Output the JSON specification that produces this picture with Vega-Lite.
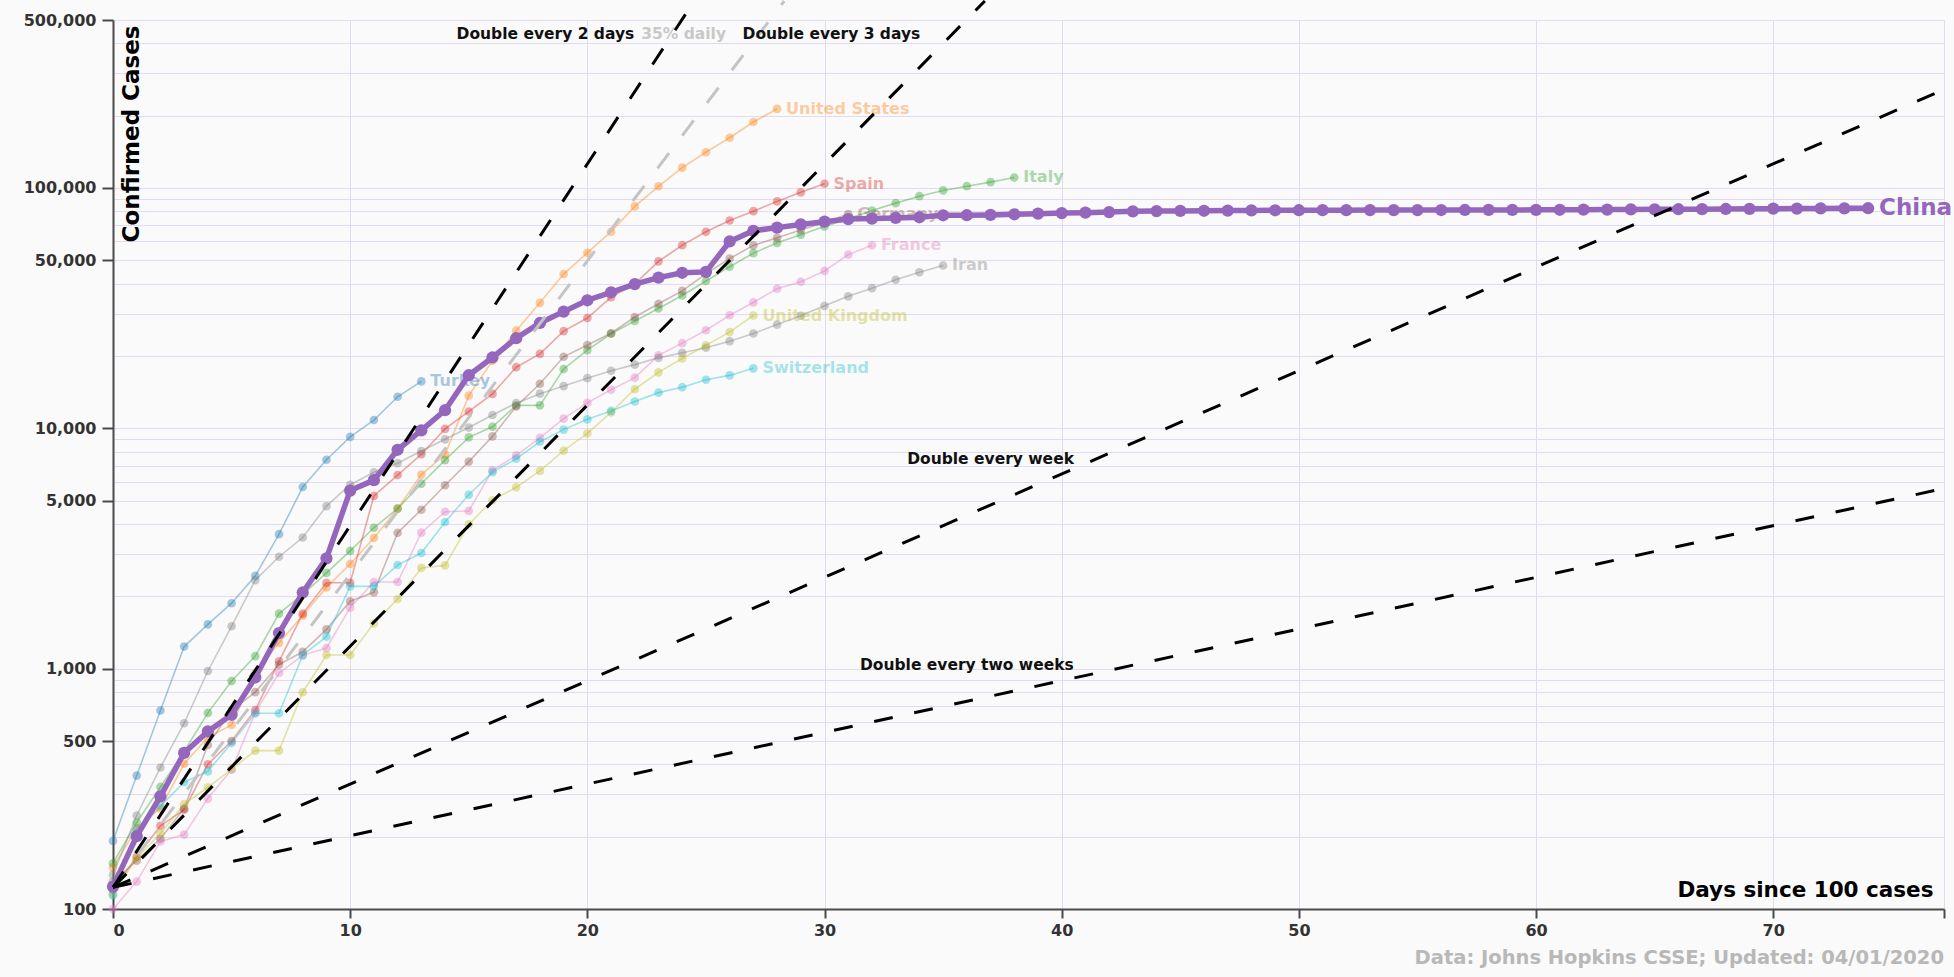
{
  "$schema": "https://vega.github.io/schema/vega-lite/v6.json",
  "autosize": {"type": "none"},
  "width": 1831,
  "height": 889,
  "padding": {"left": 113, "top": 20, "right": 10, "bottom": 68},
  "background": "#fafafa",
  "config": {
    "view": {"stroke": null},
    "font": "DejaVu Sans",
    "text": {"font": "DejaVu Sans"}
  },
  "title": {
    "text": "Data: Johns Hopkins CSSE; Updated: 04/01/2020",
    "orient": "bottom",
    "anchor": "end",
    "frame": "group",
    "font": "DejaVu Sans",
    "fontSize": 19.5,
    "fontWeight": "bold",
    "color": "#b8b8b8",
    "offset": 11
  },
  "datasets": {
    "countries": [
      {"country":"China","day":0,"cases":124},{"country":"China","day":1,"cases":201},{"country":"China","day":2,"cases":294},{"country":"China","day":3,"cases":446},{"country":"China","day":4,"cases":548},{"country":"China","day":5,"cases":643},{"country":"China","day":6,"cases":920},{"country":"China","day":7,"cases":1406},{"country":"China","day":8,"cases":2075},{"country":"China","day":9,"cases":2877},{"country":"China","day":10,"cases":5509},{"country":"China","day":11,"cases":6087},{"country":"China","day":12,"cases":8141},{"country":"China","day":13,"cases":9802},{"country":"China","day":14,"cases":11891},{"country":"China","day":15,"cases":16630},{"country":"China","day":16,"cases":19716},{"country":"China","day":17,"cases":23707},{"country":"China","day":18,"cases":27440},{"country":"China","day":19,"cases":30587},{"country":"China","day":20,"cases":34110},{"country":"China","day":21,"cases":36814},{"country":"China","day":22,"cases":39829},{"country":"China","day":23,"cases":42354},{"country":"China","day":24,"cases":44386},{"country":"China","day":25,"cases":44759},{"country":"China","day":26,"cases":59895},{"country":"China","day":27,"cases":66358},{"country":"China","day":28,"cases":68413},{"country":"China","day":29,"cases":70513},{"country":"China","day":30,"cases":72434},{"country":"China","day":31,"cases":74211},{"country":"China","day":32,"cases":74619},{"country":"China","day":33,"cases":75077},{"country":"China","day":34,"cases":75550},{"country":"China","day":35,"cases":77001},{"country":"China","day":36,"cases":77022},{"country":"China","day":37,"cases":77241},{"country":"China","day":38,"cases":77754},{"country":"China","day":39,"cases":78166},{"country":"China","day":40,"cases":78600},{"country":"China","day":41,"cases":78928},{"country":"China","day":42,"cases":79356},{"country":"China","day":43,"cases":79932},{"country":"China","day":44,"cases":80136},{"country":"China","day":45,"cases":80261},{"country":"China","day":46,"cases":80386},{"country":"China","day":47,"cases":80537},{"country":"China","day":48,"cases":80690},{"country":"China","day":49,"cases":80770},{"country":"China","day":50,"cases":80823},{"country":"China","day":51,"cases":80860},{"country":"China","day":52,"cases":80887},{"country":"China","day":53,"cases":80921},{"country":"China","day":54,"cases":80932},{"country":"China","day":55,"cases":80945},{"country":"China","day":56,"cases":80977},{"country":"China","day":57,"cases":81003},{"country":"China","day":58,"cases":81033},{"country":"China","day":59,"cases":81058},{"country":"China","day":60,"cases":81102},{"country":"China","day":61,"cases":81156},{"country":"China","day":62,"cases":81250},{"country":"China","day":63,"cases":81305},{"country":"China","day":64,"cases":81435},{"country":"China","day":65,"cases":81498},{"country":"China","day":66,"cases":81591},{"country":"China","day":67,"cases":81661},{"country":"China","day":68,"cases":81782},{"country":"China","day":69,"cases":81897},{"country":"China","day":70,"cases":81999},{"country":"China","day":71,"cases":82122},{"country":"China","day":72,"cases":82198},{"country":"China","day":73,"cases":82279},{"country":"China","day":74,"cases":82361},
      {"country":"Turkey","day":0,"cases":192},{"country":"Turkey","day":1,"cases":359},{"country":"Turkey","day":2,"cases":670},{"country":"Turkey","day":3,"cases":1236},{"country":"Turkey","day":4,"cases":1529},{"country":"Turkey","day":5,"cases":1872},{"country":"Turkey","day":6,"cases":2433},{"country":"Turkey","day":7,"cases":3629},{"country":"Turkey","day":8,"cases":5698},{"country":"Turkey","day":9,"cases":7402},{"country":"Turkey","day":10,"cases":9217},{"country":"Turkey","day":11,"cases":10827},{"country":"Turkey","day":12,"cases":13531},{"country":"Turkey","day":13,"cases":15679},
      {"country":"United States","day":0,"cases":149},{"country":"United States","day":1,"cases":217},{"country":"United States","day":2,"cases":262},{"country":"United States","day":3,"cases":402},{"country":"United States","day":4,"cases":518},{"country":"United States","day":5,"cases":583},{"country":"United States","day":6,"cases":959},{"country":"United States","day":7,"cases":1281},{"country":"United States","day":8,"cases":1663},{"country":"United States","day":9,"cases":2179},{"country":"United States","day":10,"cases":2727},{"country":"United States","day":11,"cases":3499},{"country":"United States","day":12,"cases":4632},{"country":"United States","day":13,"cases":6421},{"country":"United States","day":14,"cases":7783},{"country":"United States","day":15,"cases":13677},{"country":"United States","day":16,"cases":19100},{"country":"United States","day":17,"cases":25489},{"country":"United States","day":18,"cases":33276},{"country":"United States","day":19,"cases":43847},{"country":"United States","day":20,"cases":53740},{"country":"United States","day":21,"cases":65778},{"country":"United States","day":22,"cases":83836},{"country":"United States","day":23,"cases":101657},{"country":"United States","day":24,"cases":121478},{"country":"United States","day":25,"cases":140886},{"country":"United States","day":26,"cases":161807},{"country":"United States","day":27,"cases":188172},{"country":"United States","day":28,"cases":213372},
      {"country":"Italy","day":0,"cases":155},{"country":"Italy","day":1,"cases":229},{"country":"Italy","day":2,"cases":322},{"country":"Italy","day":3,"cases":453},{"country":"Italy","day":4,"cases":655},{"country":"Italy","day":5,"cases":888},{"country":"Italy","day":6,"cases":1128},{"country":"Italy","day":7,"cases":1694},{"country":"Italy","day":8,"cases":2036},{"country":"Italy","day":9,"cases":2502},{"country":"Italy","day":10,"cases":3089},{"country":"Italy","day":11,"cases":3858},{"country":"Italy","day":12,"cases":4636},{"country":"Italy","day":13,"cases":5883},{"country":"Italy","day":14,"cases":7375},{"country":"Italy","day":15,"cases":9172},{"country":"Italy","day":16,"cases":10149},{"country":"Italy","day":17,"cases":12462},{"country":"Italy","day":18,"cases":12462},{"country":"Italy","day":19,"cases":17660},{"country":"Italy","day":20,"cases":21157},{"country":"Italy","day":21,"cases":24747},{"country":"Italy","day":22,"cases":27980},{"country":"Italy","day":23,"cases":31506},{"country":"Italy","day":24,"cases":35713},{"country":"Italy","day":25,"cases":41035},{"country":"Italy","day":26,"cases":47021},{"country":"Italy","day":27,"cases":53578},{"country":"Italy","day":28,"cases":59138},{"country":"Italy","day":29,"cases":63927},{"country":"Italy","day":30,"cases":69176},{"country":"Italy","day":31,"cases":74386},{"country":"Italy","day":32,"cases":80589},{"country":"Italy","day":33,"cases":86498},{"country":"Italy","day":34,"cases":92472},{"country":"Italy","day":35,"cases":97689},{"country":"Italy","day":36,"cases":101739},{"country":"Italy","day":37,"cases":105792},{"country":"Italy","day":38,"cases":110574},
      {"country":"Spain","day":0,"cases":120},{"country":"Spain","day":1,"cases":165},{"country":"Spain","day":2,"cases":222},{"country":"Spain","day":3,"cases":259},{"country":"Spain","day":4,"cases":400},{"country":"Spain","day":5,"cases":500},{"country":"Spain","day":6,"cases":673},{"country":"Spain","day":7,"cases":1073},{"country":"Spain","day":8,"cases":1695},{"country":"Spain","day":9,"cases":2277},{"country":"Spain","day":10,"cases":2277},{"country":"Spain","day":11,"cases":5232},{"country":"Spain","day":12,"cases":6391},{"country":"Spain","day":13,"cases":7798},{"country":"Spain","day":14,"cases":9942},{"country":"Spain","day":15,"cases":11748},{"country":"Spain","day":16,"cases":13910},{"country":"Spain","day":17,"cases":17963},{"country":"Spain","day":18,"cases":20410},{"country":"Spain","day":19,"cases":25374},{"country":"Spain","day":20,"cases":28768},{"country":"Spain","day":21,"cases":35136},{"country":"Spain","day":22,"cases":39885},{"country":"Spain","day":23,"cases":49515},{"country":"Spain","day":24,"cases":57786},{"country":"Spain","day":25,"cases":65719},{"country":"Spain","day":26,"cases":73235},{"country":"Spain","day":27,"cases":80110},{"country":"Spain","day":28,"cases":87956},{"country":"Spain","day":29,"cases":95923},{"country":"Spain","day":30,"cases":104118},
      {"country":"Germany","day":0,"cases":130},{"country":"Germany","day":1,"cases":159},{"country":"Germany","day":2,"cases":196},{"country":"Germany","day":3,"cases":262},{"country":"Germany","day":4,"cases":482},{"country":"Germany","day":5,"cases":670},{"country":"Germany","day":6,"cases":799},{"country":"Germany","day":7,"cases":1040},{"country":"Germany","day":8,"cases":1176},{"country":"Germany","day":9,"cases":1457},{"country":"Germany","day":10,"cases":1908},{"country":"Germany","day":11,"cases":2078},{"country":"Germany","day":12,"cases":3675},{"country":"Germany","day":13,"cases":4585},{"country":"Germany","day":14,"cases":5795},{"country":"Germany","day":15,"cases":7272},{"country":"Germany","day":16,"cases":9257},{"country":"Germany","day":17,"cases":12327},{"country":"Germany","day":18,"cases":15320},{"country":"Germany","day":19,"cases":19848},{"country":"Germany","day":20,"cases":22213},{"country":"Germany","day":21,"cases":24873},{"country":"Germany","day":22,"cases":29056},{"country":"Germany","day":23,"cases":32986},{"country":"Germany","day":24,"cases":37323},{"country":"Germany","day":25,"cases":43938},{"country":"Germany","day":26,"cases":50871},{"country":"Germany","day":27,"cases":57695},{"country":"Germany","day":28,"cases":62095},{"country":"Germany","day":29,"cases":66885},{"country":"Germany","day":30,"cases":71808},{"country":"Germany","day":31,"cases":77872},
      {"country":"France","day":0,"cases":100},{"country":"France","day":1,"cases":130},{"country":"France","day":2,"cases":191},{"country":"France","day":3,"cases":204},{"country":"France","day":4,"cases":288},{"country":"France","day":5,"cases":380},{"country":"France","day":6,"cases":656},{"country":"France","day":7,"cases":959},{"country":"France","day":8,"cases":1136},{"country":"France","day":9,"cases":1219},{"country":"France","day":10,"cases":1794},{"country":"France","day":11,"cases":2293},{"country":"France","day":12,"cases":2293},{"country":"France","day":13,"cases":3681},{"country":"France","day":14,"cases":4496},{"country":"France","day":15,"cases":4532},{"country":"France","day":16,"cases":6683},{"country":"France","day":17,"cases":7715},{"country":"France","day":18,"cases":9124},{"country":"France","day":19,"cases":10970},{"country":"France","day":20,"cases":12758},{"country":"France","day":21,"cases":14463},{"country":"France","day":22,"cases":16243},{"country":"France","day":23,"cases":20123},{"country":"France","day":24,"cases":22622},{"country":"France","day":25,"cases":25600},{"country":"France","day":26,"cases":29551},{"country":"France","day":27,"cases":33402},{"country":"France","day":28,"cases":38105},{"country":"France","day":29,"cases":40708},{"country":"France","day":30,"cases":45170},{"country":"France","day":31,"cases":52827},{"country":"France","day":32,"cases":57749},
      {"country":"Iran","day":0,"cases":139},{"country":"Iran","day":1,"cases":245},{"country":"Iran","day":2,"cases":388},{"country":"Iran","day":3,"cases":593},{"country":"Iran","day":4,"cases":978},{"country":"Iran","day":5,"cases":1501},{"country":"Iran","day":6,"cases":2336},{"country":"Iran","day":7,"cases":2922},{"country":"Iran","day":8,"cases":3513},{"country":"Iran","day":9,"cases":4747},{"country":"Iran","day":10,"cases":5823},{"country":"Iran","day":11,"cases":6566},{"country":"Iran","day":12,"cases":7161},{"country":"Iran","day":13,"cases":8042},{"country":"Iran","day":14,"cases":9000},{"country":"Iran","day":15,"cases":10075},{"country":"Iran","day":16,"cases":11364},{"country":"Iran","day":17,"cases":12729},{"country":"Iran","day":18,"cases":13938},{"country":"Iran","day":19,"cases":14991},{"country":"Iran","day":20,"cases":16169},{"country":"Iran","day":21,"cases":17361},{"country":"Iran","day":22,"cases":18407},{"country":"Iran","day":23,"cases":19644},{"country":"Iran","day":24,"cases":20610},{"country":"Iran","day":25,"cases":21638},{"country":"Iran","day":26,"cases":23049},{"country":"Iran","day":27,"cases":24811},{"country":"Iran","day":28,"cases":27017},{"country":"Iran","day":29,"cases":29406},{"country":"Iran","day":30,"cases":32332},{"country":"Iran","day":31,"cases":35408},{"country":"Iran","day":32,"cases":38309},{"country":"Iran","day":33,"cases":41495},{"country":"Iran","day":34,"cases":44605},{"country":"Iran","day":35,"cases":47593},
      {"country":"United Kingdom","day":0,"cases":115},{"country":"United Kingdom","day":1,"cases":163},{"country":"United Kingdom","day":2,"cases":206},{"country":"United Kingdom","day":3,"cases":273},{"country":"United Kingdom","day":4,"cases":321},{"country":"United Kingdom","day":5,"cases":382},{"country":"United Kingdom","day":6,"cases":456},{"country":"United Kingdom","day":7,"cases":456},{"country":"United Kingdom","day":8,"cases":798},{"country":"United Kingdom","day":9,"cases":1140},{"country":"United Kingdom","day":10,"cases":1140},{"country":"United Kingdom","day":11,"cases":1543},{"country":"United Kingdom","day":12,"cases":1950},{"country":"United Kingdom","day":13,"cases":2626},{"country":"United Kingdom","day":14,"cases":2689},{"country":"United Kingdom","day":15,"cases":3983},{"country":"United Kingdom","day":16,"cases":5018},{"country":"United Kingdom","day":17,"cases":5683},{"country":"United Kingdom","day":18,"cases":6650},{"country":"United Kingdom","day":19,"cases":8077},{"country":"United Kingdom","day":20,"cases":9529},{"country":"United Kingdom","day":21,"cases":11658},{"country":"United Kingdom","day":22,"cases":14543},{"country":"United Kingdom","day":23,"cases":17089},{"country":"United Kingdom","day":24,"cases":19522},{"country":"United Kingdom","day":25,"cases":22141},{"country":"United Kingdom","day":26,"cases":25150},{"country":"United Kingdom","day":27,"cases":29474},
      {"country":"Switzerland","day":0,"cases":114},{"country":"Switzerland","day":1,"cases":214},{"country":"Switzerland","day":2,"cases":268},{"country":"Switzerland","day":3,"cases":337},{"country":"Switzerland","day":4,"cases":374},{"country":"Switzerland","day":5,"cases":491},{"country":"Switzerland","day":6,"cases":652},{"country":"Switzerland","day":7,"cases":652},{"country":"Switzerland","day":8,"cases":1139},{"country":"Switzerland","day":9,"cases":1359},{"country":"Switzerland","day":10,"cases":2200},{"country":"Switzerland","day":11,"cases":2200},{"country":"Switzerland","day":12,"cases":2700},{"country":"Switzerland","day":13,"cases":3028},{"country":"Switzerland","day":14,"cases":4075},{"country":"Switzerland","day":15,"cases":5294},{"country":"Switzerland","day":16,"cases":6575},{"country":"Switzerland","day":17,"cases":7474},{"country":"Switzerland","day":18,"cases":8795},{"country":"Switzerland","day":19,"cases":9877},{"country":"Switzerland","day":20,"cases":10897},{"country":"Switzerland","day":21,"cases":11811},{"country":"Switzerland","day":22,"cases":12928},{"country":"Switzerland","day":23,"cases":14076},{"country":"Switzerland","day":24,"cases":14829},{"country":"Switzerland","day":25,"cases":15922},{"country":"Switzerland","day":26,"cases":16605},{"country":"Switzerland","day":27,"cases":17768}
    ],
    "doubling": [
      {"line":"Double every 2 days","kind":"black","day":0,"cases":123},{"line":"Double every 2 days","kind":"black","day":24.5,"cases":599000},
      {"line":"Double every 3 days","kind":"black","day":0,"cases":123},{"line":"Double every 3 days","kind":"black","day":36.76,"cases":600000},
      {"line":"Double every week","kind":"black","day":0,"cases":123},{"line":"Double every week","kind":"black","day":80,"cases":339000},
      {"line":"Double every two weeks","kind":"black","day":0,"cases":123},{"line":"Double every two weeks","kind":"black","day":80,"cases":6458},
      {"line":"35% daily","kind":"gray","day":0,"cases":123},{"line":"35% daily","kind":"gray","day":28.3,"cases":600000}
    ],
    "doublingLabels": [
      {"label":"Double every 2 days","kind":"black","day":18.23,"cases":439000},
      {"label":"35% daily","kind":"gray","day":24.06,"cases":439000},
      {"label":"Double every 3 days","kind":"black","day":30.29,"cases":439000},
      {"label":"Double every week","kind":"black","day":37.0,"cases":7480},
      {"label":"Double every two weeks","kind":"black","day":36.0,"cases":1034}
    ]
  },
  "layer": [
    {
      "data": {"name": "countries"},
      "transform": [{"filter": "datum.country !== 'China'"}],
      "mark": {"type": "line", "strokeWidth": 1.6, "opacity": 0.4, "clip": false},
      "encoding": {
        "x": {
          "field": "day", "type": "quantitative",
          "scale": {"domain": [0, 77.2], "nice": false, "zero": false},
          "axis": {
            "values": [0, 10, 20, 30, 40, 50, 60, 70, 77.2],
            "labelExpr": "datum.value > 75 ? '' : datum.label",
            "grid": true, "gridColor": "#e2daee", "gridWidth": 1,
            "domainColor": "#4a4a4a", "domainWidth": 2,
            "tickColor": "#4a4a4a", "tickWidth": 2, "tickSize": 9,
            "labelFont": "DejaVu Sans", "labelFontSize": 16, "labelFontWeight": "bold", "labelColor": "#333333", "labelPadding": 4,
            "title": "Days since 100 cases",
            "titleFont": "DejaVu Sans", "titleFontSize": 21.5, "titleFontWeight": "bold", "titleColor": "#000000",
            "titleX": 1820, "titleY": -13, "titleAlign": "right", "titleBaseline": "alphabetic"
          }
        },
        "y": {
          "field": "cases", "type": "quantitative",
          "scale": {"type": "log", "domain": [100, 500000], "nice": false},
          "axis": {
            "values": [100,200,300,400,500,600,700,800,900,1000,2000,3000,4000,5000,6000,7000,8000,9000,10000,20000,30000,40000,50000,60000,70000,80000,90000,100000,200000,300000,400000,500000],
            "labelExpr": "indexof([100,500,1000,5000,10000,50000,100000,500000], datum.value) >= 0 ? format(datum.value, ',') : ''",
            "labelOverlap": false,
            "tickOpacity": {"condition": {"test": "indexof([100,500,1000,5000,10000,50000,100000,500000], datum.value) >= 0", "value": 1}, "value": 0},
            "grid": true, "gridColor": "#e2daee", "gridWidth": 1,
            "domainColor": "#4a4a4a", "domainWidth": 2,
            "tickColor": "#4a4a4a", "tickWidth": 2, "tickSize": 11,
            "labelFont": "DejaVu Sans", "labelFontSize": 16, "labelFontWeight": "bold", "labelColor": "#333333", "labelPadding": 6,
            "title": "Confirmed Cases",
            "titleFont": "DejaVu Sans", "titleFontSize": 23, "titleFontWeight": "bold", "titleColor": "#000000",
            "titleAngle": 270, "titleX": 18, "titleY": 5, "titleAlign": "right", "titleBaseline": "middle"
          }
        },
        "color": {
          "field": "country", "type": "nominal", "legend": null,
          "scale": {
            "domain": ["Turkey","United States","Italy","Spain","China","Germany","France","Iran","United Kingdom","Switzerland"],
            "range": ["#1f77b4","#ff7f0e","#2ca02c","#d62728","#9467bd","#8c564b","#e377c2","#7f7f7f","#bcbd22","#17becf"]
          }
        }
      }
    },
    {
      "data": {"name": "countries"},
      "transform": [{"filter": "datum.country !== 'China'"}],
      "mark": {"type": "circle", "size": 75, "opacity": 0.4, "clip": false},
      "encoding": {
        "x": {"field": "day", "type": "quantitative"},
        "y": {"field": "cases", "type": "quantitative"},
        "color": {"field": "country", "type": "nominal", "legend": null}
      }
    },
    {
      "data": {"name": "countries"},
      "transform": [
        {"filter": "datum.country !== 'China'"},
        {"joinaggregate": [{"op": "max", "field": "day", "as": "lastDay"}], "groupby": ["country"]},
        {"filter": "datum.day === datum.lastDay"}
      ],
      "mark": {"type": "text", "align": "left", "baseline": "middle", "dx": 9, "font": "DejaVu Sans", "fontSize": 16, "fontWeight": "bold", "opacity": 0.38, "clip": false},
      "encoding": {
        "x": {"field": "day", "type": "quantitative"},
        "y": {"field": "cases", "type": "quantitative"},
        "text": {"field": "country"},
        "color": {"field": "country", "type": "nominal", "legend": null}
      }
    },
    {
      "data": {"name": "countries"},
      "transform": [{"filter": "datum.country === 'China'"}],
      "mark": {"type": "line", "strokeWidth": 5.5, "color": "#9467bd", "clip": false},
      "encoding": {
        "x": {"field": "day", "type": "quantitative"},
        "y": {"field": "cases", "type": "quantitative"}
      }
    },
    {
      "data": {"name": "countries"},
      "transform": [{"filter": "datum.country === 'China'"}],
      "mark": {"type": "circle", "size": 150, "opacity": 1, "color": "#9467bd", "clip": false},
      "encoding": {
        "x": {"field": "day", "type": "quantitative"},
        "y": {"field": "cases", "type": "quantitative"}
      }
    },
    {
      "data": {"name": "countries"},
      "transform": [
        {"filter": "datum.country === 'China'"},
        {"joinaggregate": [{"op": "max", "field": "day", "as": "lastDay"}], "groupby": ["country"]},
        {"filter": "datum.day === datum.lastDay"}
      ],
      "mark": {"type": "text", "align": "left", "baseline": "middle", "dx": 11, "font": "DejaVu Sans", "fontSize": 23, "fontWeight": "bold", "color": "#9467bd", "clip": false},
      "encoding": {
        "x": {"field": "day", "type": "quantitative"},
        "y": {"field": "cases", "type": "quantitative"},
        "text": {"field": "country"}
      }
    },
    {
      "data": {"name": "doubling"},
      "transform": [{"filter": "datum.kind === 'gray'"}],
      "mark": {"type": "line", "strokeWidth": 3, "strokeDash": [19, 22], "color": "#c4c4c4", "clip": false},
      "encoding": {
        "x": {"field": "day", "type": "quantitative"},
        "y": {"field": "cases", "type": "quantitative"},
        "detail": {"field": "line"}
      }
    },
    {
      "data": {"name": "doubling"},
      "transform": [{"filter": "datum.kind === 'black'"}],
      "mark": {"type": "line", "strokeWidth": 3, "strokeDash": [19, 22], "color": "#000000", "clip": false},
      "encoding": {
        "x": {"field": "day", "type": "quantitative"},
        "y": {"field": "cases", "type": "quantitative"},
        "detail": {"field": "line"}
      }
    },
    {
      "data": {"name": "doublingLabels"},
      "mark": {"type": "text", "align": "center", "baseline": "middle", "font": "DejaVu Sans", "fontSize": 15.5, "fontWeight": "bold", "clip": false},
      "encoding": {
        "x": {"field": "day", "type": "quantitative"},
        "y": {"field": "cases", "type": "quantitative"},
        "text": {"field": "label"},
        "color": {"condition": {"test": "datum.kind === 'gray'", "value": "#c8c8c8"}, "value": "#111111"}
      }
    }
  ]
}
